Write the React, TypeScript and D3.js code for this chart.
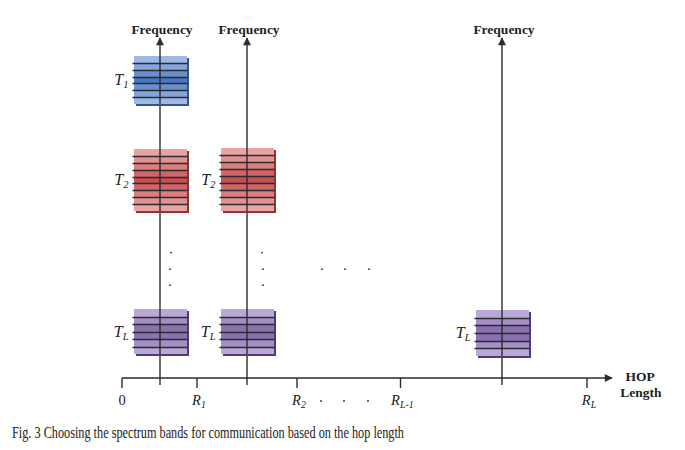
import React from 'react';
import * as d3 from 'd3';

// Hop-length axis (arbitrary hop units)
const hopTicks = [0, 15, 35, 55.7, 93];
const hopTickMain = ['0', 'R', 'R', 'R', 'R'];
const hopTickSub = ['', '1', '2', 'L-1', 'L'];
const hopDots = [40, 44.6, 49.4];
const hopAxisEnd = 98;

// Frequency axes located at these hop positions
const columnHops = [7.6, 25, 76];

// Spectrum bands
const bandCol = [0, 0, 0, 1, 1, 2];
const bandMain = ['T', 'T', 'T', 'T', 'T', 'T'];
const bandSub = ['1', '2', 'L', '2', 'L', 'L'];
const bandLo = [80.6, 49.1, 7.1, 49.1, 7.1, 6.5];
const bandHi = [94.7, 67.4, 20.4, 67.6, 20.4, 20];
const bandLines = [6, 8, 5, 8, 5, 5];
const bandPalette = ['blue', 'red', 'purple', 'red', 'purple', 'purple'];

// Ellipsis dots (vertical, frequency units)
const vDotFreq = [36.9, 32, 27.3];
const vDotCols = [0, 1];
const hDotFreq = 32;
const hDotHops = [40, 44.6, 49.4];

const palettes: Record<string, { light: string; dark: string; shadow: string }> = {
  blue: { light: '#a6c0e8', dark: '#4a79c2', shadow: '#34558c' },
  red: { light: '#eaa9a9', dark: '#c84f4f', shadow: '#923232' },
  purple: { light: '#c2b2dc', dark: '#7c62a6', shadow: '#503c74' },
};

const serif = '"Liberation Serif", "Times New Roman", serif';
const ink = '#2b2b30';

export default function App() {
  const W = 685, H = 450;
  const x = d3.scaleLinear().domain([0, 98]).range([122, 612]);
  const y = d3.scaleLinear().domain([0, 100]).range([378, 38]);
  const blockHalf = 26.5;
  const y0 = y(0);

  const bands = bandCol.map((c, i) => ({
    col: c, main: bandMain[i], sub: bandSub[i], lo: bandLo[i], hi: bandHi[i],
    lines: bandLines[i], pal: palettes[bandPalette[i]],
  }));

  return (
    <svg width={W} height={H} viewBox={`0 0 ${W} ${H}`} style={{ display: 'block', position: 'absolute', left: 0, top: 0, background: '#fff' }}>
      <defs>
        <marker id="arr" viewBox="0 0 10 10" refX="9" refY="5" markerWidth="10" markerHeight="8" markerUnits="userSpaceOnUse" orient="auto">
          <path d="M0,0 L10,5 L0,10 z" fill={ink} />
        </marker>
      </defs>
      <rect x={0} y={0} width={W} height={H} fill="#fff" />

      {/* vertical frequency axes */}
      {columnHops.map((h, i) => (
        <g key={'ax' + i}>
          <line x1={x(h)} x2={x(h)} y1={y0 + 7} y2={y(100)} stroke={ink} strokeWidth={1.4} markerEnd="url(#arr)" />
          <text x={x(h) + 2} y={34} textAnchor="middle" fontFamily={serif} fontWeight="bold" fontSize={13.5} fill="#1e1e1e">Frequency</text>
        </g>
      ))}

      {/* bands */}
      {bands.map((b, i) => {
        const cx = x(columnHops[b.col]);
        const top = Math.round(y(b.hi)), bot = Math.round(y(b.lo));
        const h = bot - top;
        const n = b.lines + 1;
        const step = h / n;
        const stripes = d3.range(n);
        const mid = (n - 1) / 2;
        return (
          <g key={'b' + i}>
            <rect x={Math.round(cx - blockHalf) + 2} y={top + 2} width={blockHalf * 2} height={h} fill={b.pal.shadow} shapeRendering="crispEdges" />
            {stripes.map(s => {
              const t = 1 - Math.abs(s - mid) / (mid + 0.5);
              const sy = Math.round(top + s * step);
              const ey = Math.round(top + (s + 1) * step);
              return (
                <rect key={s} x={Math.round(cx - blockHalf)} y={sy} width={blockHalf * 2} height={ey - sy}
                  fill={d3.interpolateRgb(b.pal.light, b.pal.dark)(Math.pow(t, 1.2))} shapeRendering="crispEdges" />
              );
            })}
            {d3.range(1, n).map(l => {
              const ly = Math.round(top + l * step) + 0.5;
              return (
                <line key={'l' + l} x1={cx - blockHalf - 1} x2={cx + blockHalf + 1} y1={ly} y2={ly}
                  stroke={ink} strokeWidth={1.5} />
              );
            })}
            <line x1={cx} x2={cx} y1={top} y2={bot} stroke={ink} strokeWidth={1.4} />
            <text x={cx - blockHalf - 5} y={(top + bot) / 2 + 5} textAnchor="end" fontFamily={serif} fontStyle="italic" fontSize={16} fill="#222">
              {b.main}<tspan fontSize={10.5} dy={3}>{b.sub}</tspan>
            </text>
          </g>
        );
      })}

      {/* vertical ellipsis dots */}
      {vDotCols.map(c => vDotFreq.map((f, k) => (
        <circle key={'vd' + c + k} cx={x(columnHops[c]) + (c === 0 ? 10 : 16) + (k === 0 ? (c === 0 ? 1 : -1) : 0)} cy={y(f)} r={0.9} fill={ink} />
      )))}
      {hDotHops.map((h, k) => (
        <circle key={'hd' + k} cx={x(h)} cy={y(hDotFreq)} r={0.9} fill={ink} />
      ))}

      {/* hop length axis */}
      <line x1={x(0)} x2={x(hopAxisEnd)} y1={y0} y2={y0} stroke={ink} strokeWidth={1.4} markerEnd="url(#arr)" />
      {hopTicks.map((t, i) => (
        <g key={'t' + i}>
          <line x1={x(t)} x2={x(t)} y1={y0} y2={y0 + 10} stroke={ink} strokeWidth={1.4} />
          <text x={x(t) + (i === 0 ? 0 : 2)} y={y0 + 27} textAnchor="middle" fontFamily={serif}
            fontStyle={i === 0 ? 'normal' : 'italic'} fontSize={14.5} fill="#222">
            {hopTickMain[i]}{hopTickSub[i] && <tspan fontSize={10} dy={3}>{hopTickSub[i]}</tspan>}
          </text>
        </g>
      ))}
      {hopDots.map((h, k) => (
        <circle key={'rd' + k} cx={x(h) - 1} cy={y0 + 23} r={0.9} fill={ink} />
      ))}
      <text x={640} y={y0 + 3} textAnchor="middle" fontFamily={serif} fontWeight="bold" fontSize={13.5} fill="#1e1e1e">HOP</text>
      <text x={641} y={y0 + 19} textAnchor="middle" fontFamily={serif} fontWeight="bold" fontSize={13.5} fill="#1e1e1e">Length</text>

      {/* caption */}
      <text x={12} y={438} fontFamily={serif} fontSize={16} textLength={392} lengthAdjust="spacingAndGlyphs" fill="#222">
        Fig. 3 Choosing the spectrum bands for communication based on the hop length
      </text>
    </svg>
  );
}
